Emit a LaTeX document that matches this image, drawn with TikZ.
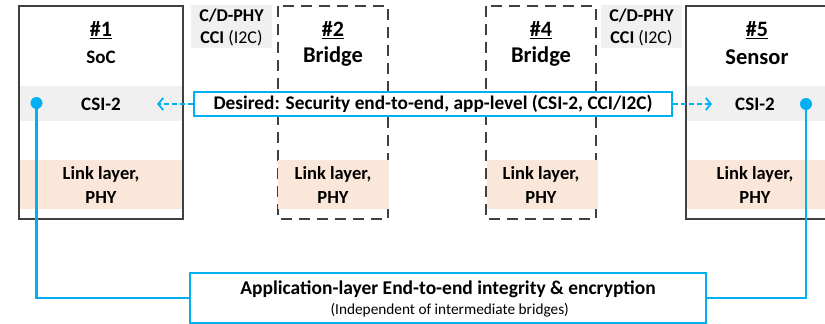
\documentclass[tikz,border=0pt]{standalone}
\usepackage{fontspec}
\setmainfont{Carlito}
\usetikzlibrary{arrows.meta}
\definecolor{cblue}{HTML}{00B0F0}
\definecolor{cgray}{HTML}{404040}
\definecolor{lgray}{HTML}{F0F0F0}
\definecolor{peach}{HTML}{FBE7D9}
\tikzset{
  solidbox/.style={draw=cgray, line width=1.5pt},
  dashbox/.style={draw=cgray, line width=1.5pt, dash pattern=on 11pt off 7pt},
  csiband/.style={fill=lgray},
  linkband/.style={fill=peach},
  lbl/.style={inner sep=0pt, align=center},
  bluelink/.style={draw=cblue, line width=2.2pt},
  dasharrow/.style={draw=cblue, line width=1.8pt, dash pattern=on 5pt off 3pt, -{Straight Barb[length=5pt,width=12pt,line width=1.8pt]}},
  dotmark/.style={circle, fill=cblue, inner sep=0pt, minimum size=12pt},
}
\newcommand{\fs}[1]{\fontsize{#1}{#1}\selectfont}
\begin{document}
\begin{tikzpicture}[x=1pt,y=-1pt]
\clip (0,0) rectangle (825,324);
\fill[white] (0,0) rectangle (825,324);
% bands
\fill[csiband] (19,86) rectangle (183,121);
\fill[csiband] (686,86) rectangle (840,121);
\fill[linkband] (19,160) rectangle (183,209);
\fill[linkband] (686,160) rectangle (840,209);
% boxes
\draw[solidbox] (19,6) rectangle (183,219);
\draw[solidbox] (686,6) rectangle (828,219);
\draw[dashbox] (278,6) rectangle (388,219);
\draw[dashbox] (486,6) rectangle (596,219);
\fill[linkband] (278,160) rectangle (389,209);
\fill[linkband] (487,160) rectangle (598,209);
% top labels
\fill[lgray] (191,5) rectangle (272,48);
\fill[lgray] (601,5) rectangle (682,48);
\node[lbl] (phyA1) at (231.5,16) {\fs{18}\bfseries C/D-PHY};
\node[lbl] (phyA2) at (231.5,38) {\fs{18}\textbf{CCI} (I2C)};
\node[lbl] (phyB1) at (641.5,16) {\fs{18}\bfseries C/D-PHY};
\node[lbl] (phyB2) at (641.5,38) {\fs{18}\textbf{CCI} (I2C)};
% titles
\node[lbl] (n1) at (101,30) {\fs{22}\bfseries\underline{\#1}};
\node[lbl] (soc) at (101,57) {\fs{19}\bfseries SoC};
\node[lbl] (n2) at (333,30) {\fs{22}\bfseries\underline{\#2}};
\node[lbl] (br2) at (333,57) {\fs{22.5}\bfseries Bridge};
\node[lbl] (n4) at (541,30) {\fs{22}\bfseries\underline{\#4}};
\node[lbl] (br4) at (541,57) {\fs{22.5}\bfseries Bridge};
\node[lbl] (n5) at (757,30) {\fs{22}\bfseries\underline{\#5}};
\node[lbl] (sen) at (757,57) {\fs{22.5}\bfseries Sensor};
% CSI-2
\node[lbl] (csi1) at (101,104) {\fs{19}\bfseries CSI-2};
\node[lbl] (csi5) at (755,104) {\fs{19}\bfseries CSI-2};
% link layers
\foreach \nm/\xx in {l1/101, l2/333, l4/541, l5/755}{
  \node[lbl, font={\fontsize{18.5}{24}\selectfont\bfseries}] (\nm) at (\xx,185) {Link layer,\\PHY};
}
% desired box
\node[draw=cblue, fill=white, line width=1.2pt, minimum width=478pt, minimum height=24pt, inner sep=0pt] (des) at (433,104) {\fs{19.3}\bfseries Desired: Security end-to-end, app-level (CSI-2, CCI/I2C)};
\coordinate (tipL) at (157,104);
\coordinate (tipR) at (712,104);
\draw[dasharrow] (des.west) -- (tipL);
\draw[dasharrow] (des.east) -- (tipR);
% bottom box
\node[draw=cblue, fill=white, line width=2.4pt, minimum width=516pt, minimum height=50pt, inner sep=0pt] (app) at (448,298) {};
\node[lbl] (appT) at (448,289) {\fs{19.5}\bfseries Application-layer End-to-end integrity \& encryption};
\node[lbl] (appS) at (448,310) {\fs{15.3} (Independent of intermediate bridges)};
% dots and links
\node[dotmark] (d1) at (36.5,103) {};
\node[dotmark] (d5) at (806,104) {};
\draw[bluelink] (d1.center) |- (app.west);
\draw[bluelink] (d5.center) |- (app.east);
\end{tikzpicture}
\end{document}
